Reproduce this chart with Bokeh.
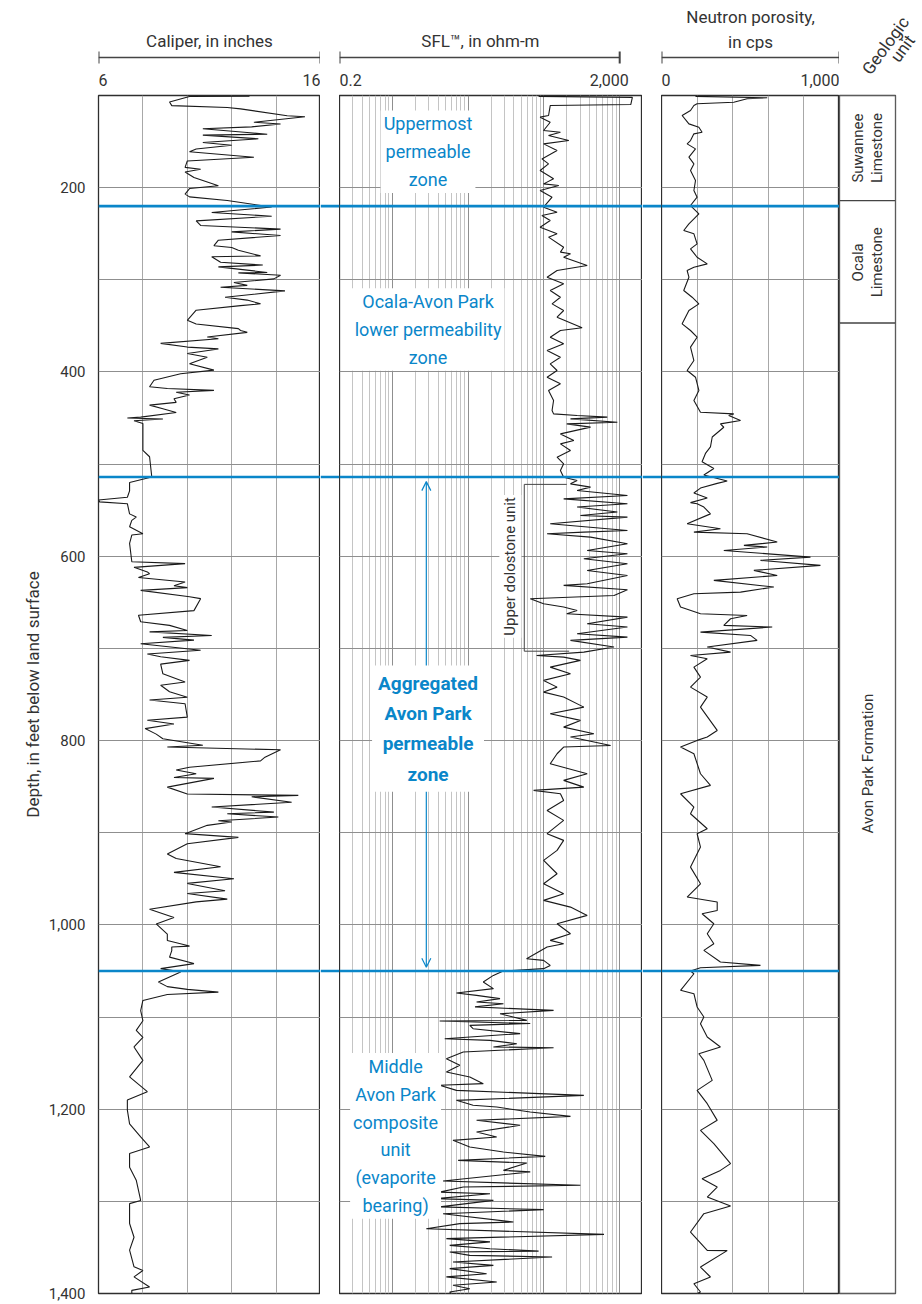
import math
from bokeh.plotting import figure
from bokeh.layouts import row, column
from bokeh.models import Range1d, FixedTicker, Span, Arrow, OpenHead, NumeralTickFormatter
from bokeh.core.properties import value
from bokeh.embed import file_html
from bokeh.resources import INLINE

# ---------------- data ----------------
depth_top, depth_bottom = 100, 1400
depth_ticks = [200, 400, 600, 800, 1000, 1200, 1400]
grid_depths = [200, 300, 400, 500, 600, 700, 800, 900, 1000, 1100, 1200, 1300]
zone_boundaries = [220, 514, 1050]

caliper_range = (6, 16)
caliper_grid = [8, 10, 12, 14]
sfl_range = (0.2, 2000)
sfl_major = [1, 10, 100, 1000]
sfl_minor = [0.2, 0.3, 0.4, 0.5, 0.6, 0.7, 0.8, 0.9,
             2, 3, 4, 5, 6, 7, 8, 9, 20, 30, 40, 50, 60, 70, 80, 90,
             200, 300, 400, 500, 600, 700, 800, 900, 2000]
neutron_range = (0, 1000)
neutron_grid = [200, 400, 600, 800]

# caliper: (depth ft, inches)
caliper = [
    (100.7, 12.8), (101, 10.1), (107, 9.2), (111, 9.3), (113, 11.8), (114.5, 12.4), (122, 14.5), (123, 15.3),
    (129, 13.0), (131, 14.2), (134, 12.9), (136, 10.7), (142, 13.6), (143, 10.7), (147, 13.2), (151, 10.7),
    (154, 12.0), (158, 10.4), (161, 10.1), (167, 13.0), (171, 10.0), (178, 9.9), (180, 10.6), (183, 9.9),
    (189, 10.3), (198, 11.4), (201, 10.1), (207, 9.9), (210, 10.1), (214, 11.8), (221, 13.8), (227, 11.1),
    (231, 13.8), (236, 10.4), (241, 10.6), (245, 14.2), (248, 12.0), (252, 14.2), (257, 11.4), (263, 11.2),
    (265, 12.0), (268, 12.3), (274, 13.3), (275, 11.1), (281, 11.5), (284, 13.4), (286, 11.4), (292, 13.6),
    (292.5, 12.3), (295, 14.2), (299, 13.9), (303, 12.1), (306, 12.7), (308, 11.5), (312, 14.4), (319, 11.7),
    (322, 12.7), (326, 13.3), (328, 12.4), (333, 10.4), (344, 10.0), (348, 10.4), (353, 12.3), (355, 12.4),
    (357, 12.7), (362, 10.9), (364, 11.4), (369, 8.8), (373, 10.0), (375, 11.4), (380, 10.0), (384, 10.9),
    (391, 10.1), (398, 11.2), (402, 9.7), (409, 8.5), (416, 8.3), (418, 9.1), (420, 11.2), (422, 9.5),
    (425, 10.1), (429, 9.4), (433, 9.5), (436, 8.3), (440, 8.9), (444, 9.5), (449, 7.9), (450, 7.3),
    (451, 8.9), (453, 7.6), (456, 8.0), (474, 8.0), (485, 8.0), (492, 8.3), (514, 8.4), (520, 7.4),
    (529, 7.4), (536, 7.3), (539, 6.0), (541, 6.05), (543, 7.3), (554, 7.4), (557.5, 7.7), (561, 7.5),
    (568, 7.4), (575.6, 8.0), (577, 7.5), (586, 7.4), (606, 7.5), (608, 9.9), (612, 7.6), (617, 8.2),
    (619, 8.3), (623, 7.8), (628, 9.9), (632, 9.4), (634, 10.0), (637, 7.9), (644, 10.1), (646, 10.6),
    (659, 10.3), (664, 7.8), (671, 7.9), (675, 9.2), (680.5, 10.0), (682, 8.3), (686, 11.1), (688, 8.9),
    (691, 10.3), (695, 7.9), (702, 10.6), (706, 8.2), (709, 8.8), (713, 10.1), (717, 8.8), (727.5, 8.9),
    (736.5, 9.9), (740, 8.8), (747, 9.2), (753, 10.0), (756, 8.3), (760, 9.9), (774.5, 10.0), (778, 8.2),
    (782, 9.4), (787, 8.1), (793, 8.6), (798, 8.9), (805, 10.7), (807, 9.1), (810, 14.2), (818, 13.5),
    (822, 13.3), (829, 10.1), (832, 9.5), (836, 10.4), (840, 9.4), (841, 11.2), (850.5, 9.1), (858, 10.0),
    (859.5, 15.0), (861, 12.9), (867, 14.7), (872, 11.1), (877.6, 13.9), (879.4, 11.8), (883, 14.1),
    (887, 11.4), (888.4, 12.0), (892, 10.9), (901, 9.9), (905, 12.3), (912, 10.0), (923, 9.1), (928, 9.5),
    (937, 11.5), (943, 9.4), (950, 12.1), (955, 10.0), (963, 11.7), (966, 10.0), (972, 11.8), (975, 10.4),
    (983, 8.3), (992, 9.4), (999, 8.6), (1010, 9.1), (1017, 9.1), (1023, 10.1), (1024, 9.3), (1028, 9.3),
    (1035, 9.2), (1042, 10.3), (1047.5, 8.8), (1051, 9.7), (1062, 8.7), (1067, 9.1), (1070, 10.0),
    (1073, 11.4), (1075.5, 9.1), (1082, 8.0), (1093, 7.9), (1104, 8.0), (1114.5, 7.7), (1122, 8.0),
    (1132.5, 7.6), (1147, 8.0), (1165, 7.4), (1181, 8.2), (1190, 7.3), (1201, 7.3), (1216, 7.4), (1230, 7.9),
    (1241, 8.3), (1248, 7.4), (1263, 7.4), (1277, 7.7), (1299, 7.9), (1302.5, 7.4), (1324, 7.4), (1339, 7.6),
    (1353, 7.4), (1371, 7.6), (1375, 8.0), (1382, 7.6), (1393, 8.3), (1396.6, 7.5), (1400, 7.5),
]

# SFL resistivity: (depth ft, ohm-m)
sfl = [
    (101, 85), (102, 1470), (109.8, 1400), (110.9, 121), (121.7, 115), (123.5, 89), (129, 121), (138, 99),
    (139.8, 165), (143.4, 115), (148.9, 213), (152.5, 99), (159.7, 149), (168.8, 94), (174.2, 115),
    (181.4, 89), (190.4, 134), (195.9, 99), (197.7, 157), (203, 89), (210.3, 128), (221.2, 99), (226.6, 149),
    (230.2, 94), (235.7, 121), (242.9, 89), (250.1, 149), (253.7, 115), (264.6, 182), (270, 165),
    (271.8, 224), (275.5, 182), (284.5, 372), (289.9, 149), (297.2, 110), (304.4, 182), (311.6, 121),
    (318.9, 165), (326.1, 128), (333.3, 182), (340.6, 149), (352.1, 319), (355, 165), (362.3, 121),
    (369.5, 182), (376.7, 110), (384, 165), (391.2, 121), (398.4, 149), (405.7, 110), (412.9, 165),
    (420.1, 115), (431, 134), (441.8, 128), (445.5, 134), (447.3, 274), (449, 686), (450.9, 224),
    (454.5, 931), (456.3, 200), (459.9, 412), (467.2, 165), (474.4, 248), (478, 165), (485.2, 224),
    (492.5, 149), (499.7, 182), (507, 165), (514.2, 182), (517.8, 274), (521.4, 224), (525, 412),
    (528.6, 274), (534, 1265), (537.7, 182), (543, 1265), (546.6, 274), (552, 931), (555.7, 303),
    (557.5, 1265), (564.7, 121), (572, 1265), (573.8, 336), (575.6, 110), (579.2, 412), (586.4, 1265),
    (593.7, 372), (597.3, 1265), (602.7, 336), (608.1, 1265), (615.4, 372), (620.8, 1265), (629.8, 372),
    (631.6, 182), (636.3, 1265), (642.5, 841), (646.1, 66), (651.5, 99), (655.1, 182), (658.8, 274),
    (662.4, 200), (666, 1265), (673.2, 372), (676.8, 1265), (684.1, 274), (687.7, 1265), (691.3, 224),
    (698.5, 841), (704, 336), (707.6, 80), (709.4, 182), (713, 303), (720.3, 121), (727.5, 224),
    (734.7, 99), (742, 149), (747.4, 99), (752.8, 182), (763.7, 336), (770.9, 121), (778.1, 303),
    (785.4, 182), (792.6, 456), (796.2, 224), (805.3, 759), (807, 182), (814.3, 149), (825.1, 121),
    (836, 372), (843.2, 182), (850.5, 336), (854, 73), (857.7, 165), (865, 182), (875.8, 110),
    (886.6, 182), (901, 110), (908.3, 182), (919.2, 149), (930, 99), (944.5, 149), (955.3, 99),
    (966.2, 182), (973.4, 99), (980.7, 224), (989.7, 372), (998.8, 149), (1009.6, 224), (1016.8, 121),
    (1020.4, 182), (1024, 110), (1036.7, 59), (1038.5, 99), (1044, 121), (1047.5, 99), (1050, 29),
    (1054.8, 21.5), (1062, 15.8), (1069.2, 21.5), (1074, 7.0), (1076.5, 12.9), (1080, 26.3),
    (1083.7, 12.9), (1085.5, 29.2), (1089, 12.3), (1092.8, 134), (1096.4, 26.3), (1103.6, 59.4),
    (1104.3, 4.2), (1107, 65.9), (1109, 10.5), (1112.7, 11.6), (1118, 48.5), (1123.5, 4.9), (1125.3, 19.4),
    (1129, 43.8), (1132.5, 21.5), (1133.3, 134), (1138, 8.6), (1145.2, 5.15), (1152.4, 7.75), (1159.7, 5.15),
    (1165, 10.5), (1172.3, 15.8), (1174, 4.2), (1179.6, 7.0), (1185, 336), (1190.4, 7.0), (1195.8, 11.6),
    (1197.7, 23.8), (1203, 65.9), (1207.8, 224), (1212, 12.9), (1217.5, 48.5), (1224.8, 12.9),
    (1230.2, 23.8), (1233.8, 6.3), (1241, 10.5), (1246.5, 29.2), (1251.2, 104), (1255.5, 7.36),
    (1258.4, 59.4), (1266.4, 29.2), (1268, 65.9), (1278, 4.66), (1282.6, 303), (1284.5, 8.6), (1290, 4.2),
    (1291.7, 19.4), (1297, 3.8), (1298.9, 21.5), (1306, 4.2), (1309, 99), (1313.4, 4.66), (1322.4, 39.5),
    (1324.2, 7.75), (1329.7, 2.8), (1335.8, 620), (1340.5, 5.15), (1344, 19.4), (1347.8, 5.7),
    (1351.4, 19.4), (1354, 85), (1355, 5.7), (1358.6, 10.5), (1360.4, 128), (1365.8, 6.3), (1369.5, 21.5),
    (1373, 5.7), (1378.5, 17.5), (1382, 5.15), (1387.5, 23.8), (1391, 6.3), (1394.8, 10.5), (1398.4, 5.7),
    (1400, 6.0),
]

# neutron porosity: (depth ft, cps)
neutron = [
    (101, 191), (102.5, 594), (103.6, 481), (107.3, 406), (109, 200), (110.9, 182), (116.3, 163),
    (121.7, 116), (130.8, 154), (134.4, 210), (139.8, 228), (141.6, 182), (148.9, 163), (152.5, 144),
    (157.9, 191), (166.9, 154), (174.2, 182), (181.4, 163), (192.3, 191), (203.1, 182), (210.3, 200),
    (219.4, 163), (228.4, 210), (239.3, 154), (246.5, 125), (250.1, 182), (261, 200), (266.4, 163),
    (275.5, 200), (282.7, 257), (286.3, 182), (289.9, 144), (297.2, 154), (311.6, 125), (318.9, 172),
    (326.1, 210), (333.3, 154), (347.8, 116), (355, 163), (362.3, 200), (373.1, 163), (387.6, 182),
    (398.4, 144), (405.7, 191), (420.1, 210), (431, 182), (443.8, 219), (445.5, 406), (447.3, 378),
    (452.7, 444), (456.3, 331), (460, 350), (470.6, 285), (481.3, 275), (488.4, 247), (497.5, 228),
    (504.7, 294), (511.9, 238), (518.4, 369), (520.9, 313), (526, 219), (531.4, 182), (536.8, 257),
    (541.8, 163), (543, 200), (546.6, 238), (554, 275), (564.7, 144), (570.1, 331), (573.8, 182),
    (575.6, 481), (584.6, 650), (588.2, 463), (590, 594), (593.7, 350), (600.9, 837), (604.5, 556),
    (609.9, 893), (615.3, 519), (620.8, 650), (626.2, 294), (633.4, 631), (638.9, 444), (640.7, 182),
    (646.1, 88), (655.1, 107), (662.4, 219), (664.2, 481), (667.8, 388), (675, 350), (676.8, 622),
    (682.3, 219), (685.9, 500), (691.3, 537), (698.5, 257), (704, 388), (707.6, 163), (711.2, 257),
    (720.3, 182), (731.1, 219), (742, 163), (752.8, 257), (763.7, 219), (789, 313), (796.2, 257),
    (799.8, 200), (807, 107), (814.3, 182), (836, 219), (848.6, 275), (857.7, 107), (872.2, 182),
    (879.4, 163), (895.7, 257), (901.1, 200), (915.6, 219), (937.3, 163), (955.4, 219), (969.8, 144),
    (975.2, 313), (984.3, 313), (987.9, 228), (998.8, 294), (1009.6, 257), (1020.4, 294), (1027.7, 238),
    (1040.3, 331), (1043.9, 556), (1046.5, 219), (1050.1, 163), (1053, 182), (1071, 107), (1074.7, 182),
    (1089.1, 200), (1100, 238), (1107.2, 219), (1121.7, 257), (1132.5, 331), (1139.8, 210), (1147, 238),
    (1168.7, 285), (1179.6, 200), (1194, 257), (1212.1, 313), (1223, 219), (1237.4, 294), (1259.1, 388),
    (1266.4, 331), (1275.4, 228), (1284.5, 313), (1295.3, 257), (1305.1, 388), (1313.4, 238),
    (1333.3, 163), (1353.2, 257), (1353.5, 369), (1371.3, 219), (1382.1, 275), (1389.4, 182),
    (1398.4, 219), (1400, 200),
]

caliper_depth = [d for d, v in caliper]
caliper_in = [v for d, v in caliper]
sfl_depth = [d for d, v in sfl]
sfl_ohm = [v for d, v in sfl]
neutron_depth = [d for d, v in neutron]
neutron_cps = [v for d, v in neutron]

unit_names = ["Suwannee\nLimestone", "Ocala\nLimestone", "Avon Park Formation"]
unit_top = [100, 214, 347]
unit_bottom = [214, 347, 1400]
unit_label_depth = [157, 281, 825]

zone_labels = ["Uppermost\npermeable\nzone", "Ocala-Avon Park\nlower permeability\nzone",
               "Middle\nAvon Park\ncomposite\nunit\n(evaporite\nbearing)"]
zone_label_x = [2.95, 2.95, 1.1]
zone_label_depth = [161, 354, 1229]
aggregated_label = "Aggregated\nAvon Park\npermeable\nzone"
aggregated_x, aggregated_depth = 2.95, 787
arrow_x, arrow_top, arrow_bottom = 2.8, 519, 1046
dolostone_top, dolostone_bottom = 522, 703
dolostone_left, dolostone_right_top, dolostone_right_bottom = 55, 200, 215
dolostone_label_x, dolostone_label_depth = 36, 611

# ---------------- style ----------------
FONT_NAME = "Roboto"
FONT = value(FONT_NAME)
BLUE = "#0a86c9"
INK = "#333333"
CURVE = "#1a1a1a"
GRID_MAJOR = "#8f8f8f"
GRID_MINOR = "#c4c4c4"

HEAD_H = 93
TOP, FRAME_H, BOTTOM = 2, 1198, 9
MAIN_H = TOP + FRAME_H + BOTTOM
LEFT = 98
GEO_W = 80

yr = Range1d(depth_bottom, depth_top)
cal_xr = Range1d(*caliper_range)
sfl_xr = Range1d(*sfl_range)
neu_xr = Range1d(*neutron_range)
geo_xr = Range1d(0, 1)


def make(width, height, x_range, y_range, x_type="linear", y_loc=None, **borders):
    p = figure(width=width, height=height, x_range=x_range, y_range=y_range,
               x_axis_type=x_type, x_axis_location=None, y_axis_location=y_loc,
               toolbar_location=None, output_backend="svg", min_border=0, **borders)
    p.background_fill_color = "white"
    p.border_fill_color = "white"
    p.outline_line_color = None
    p.xgrid.visible = False
    p.ygrid.visible = False
    return p


def style_track(p, xticks, minor=None):
    p.outline_line_color = "#2e2e2e"
    p.outline_line_width = 1.3
    p.xgrid.visible = True
    p.xgrid.ticker = FixedTicker(ticks=xticks, minor_ticks=minor or [])
    p.xgrid.grid_line_color = GRID_MAJOR if minor else "#a8a8a8"
    p.xgrid.grid_line_width = 1
    if minor:
        p.xgrid.minor_grid_line_color = GRID_MINOR
        p.xgrid.minor_grid_line_width = 1
    p.ygrid.visible = True
    p.ygrid.ticker = FixedTicker(ticks=grid_depths)
    p.ygrid.grid_line_color = GRID_MAJOR
    p.ygrid.grid_line_width = 1


def zone_lines(p):
    for d in zone_boundaries:
        p.add_layout(Span(location=d, dimension="width", line_color=BLUE, line_width=2.6))


# ---------------- main tracks ----------------
cal = make(LEFT + 222, MAIN_H, cal_xr, yr, y_loc="left", min_border_left=LEFT,
           min_border_top=TOP, min_border_bottom=BOTTOM)
style_track(cal, caliper_grid)
ax = cal.yaxis[0]
ax.ticker = FixedTicker(ticks=depth_ticks)
ax.formatter = NumeralTickFormatter(format="0,0")
ax.major_tick_line_color = None
ax.minor_tick_line_color = None
ax.major_tick_out = 0
ax.major_tick_in = 0
ax.minor_tick_out = 0
ax.axis_line_color = None
ax.major_label_text_font = FONT_NAME
ax.major_label_text_font_size = "15px"
ax.major_label_text_color = INK
ax.major_label_standoff = 13
ax.axis_label = "Depth, in feet below land surface"
ax.axis_label_text_font = FONT_NAME
ax.axis_label_text_font_size = "17px"
ax.axis_label_text_font_style = "normal"
ax.axis_label_text_color = INK
ax.axis_label_standoff = 3
zone_lines(cal)
cal.line(caliper_in, caliper_depth, line_color=CURVE, line_width=1.1)

gap1 = make(19, MAIN_H, Range1d(0, 1), yr, min_border_top=TOP, min_border_bottom=BOTTOM)
zone_lines(gap1)

sfl_p = make(303, MAIN_H, sfl_xr, yr, x_type="log", min_border_top=TOP, min_border_bottom=BOTTOM)
style_track(sfl_p, sfl_major, sfl_minor)
zone_lines(sfl_p)
sfl_p.add_layout(Arrow(x_start=arrow_x, y_start=arrow_top, x_end=arrow_x, y_end=arrow_bottom,
                       line_color=BLUE, line_width=1.2, level="underlay",
                       start=OpenHead(size=9, line_color=BLUE, line_width=1.2),
                       end=OpenHead(size=9, line_color=BLUE, line_width=1.2)))
sfl_p.line([dolostone_right_top, dolostone_left, dolostone_left, dolostone_right_bottom],
           [dolostone_top, dolostone_top, dolostone_bottom, dolostone_bottom],
           line_color="#444444", line_width=1)
sfl_p.text(x=[dolostone_label_x], y=[dolostone_label_depth], text=["Upper dolostone unit"],
           angle=math.pi / 2, text_font=FONT, text_font_size="15px", text_color=INK,
           text_align="center", text_baseline="middle", background_fill_color="white", padding=2)
sfl_p.line(sfl_ohm, sfl_depth, line_color=CURVE, line_width=1.1)
sfl_p.text(x=zone_label_x, y=zone_label_depth, text=zone_labels, text_font=FONT,
           text_font_size="18px", text_color=BLUE, text_align="center", text_baseline="middle",
           text_line_height=1.32, background_fill_color="white", padding=3)
sfl_p.text(x=[aggregated_x], y=[aggregated_depth], text=[aggregated_label], text_font=FONT,
           text_font_size="19px", text_font_style="bold", text_color=BLUE, text_align="center",
           text_baseline="middle", text_line_height=1.32, background_fill_color="white", padding=6)

gap2 = make(19, MAIN_H, Range1d(0, 1), yr, min_border_top=TOP, min_border_bottom=BOTTOM)
zone_lines(gap2)

neu = make(178, MAIN_H, neu_xr, yr, min_border_top=TOP, min_border_bottom=BOTTOM)
style_track(neu, neutron_grid)
zone_lines(neu)
neu.line(neutron_cps, neutron_depth, line_color=CURVE, line_width=1.1)

geo = make(GEO_W, MAIN_H, geo_xr, yr, min_border_top=TOP, min_border_bottom=BOTTOM,
           min_border_right=GEO_W - 56)
geo.outline_line_color = "#444444"
geo.outline_line_width = 1.3
geo.quad(left=[0] * 3, right=[1] * 3, top=unit_top, bottom=unit_bottom,
         fill_color="white", line_color="#444444", line_width=1.3)
geo.text(x=[0.5] * 3, y=unit_label_depth, text=unit_names, angle=math.pi / 2, text_font=FONT,
         text_font_size="15px", text_color=INK, text_align="center", text_baseline="middle",
         text_line_height=1.05)

# ---------------- header row ----------------
hy = Range1d(HEAD_H, 0)
TITLE_Y, BRACKET_Y, TICK_HALF, LABEL_Y = 40, 57, 6, 79


def header(p, lo, hi, title_x, title, lo_label, hi_label, hi_label_x=None, title_y=TITLE_Y):
    p.segment(x0=[lo], y0=[BRACKET_Y], x1=[hi], y1=[BRACKET_Y], line_color="#444444", line_width=1.3)
    p.segment(x0=[lo, hi], y0=[BRACKET_Y - TICK_HALF] * 2, x1=[lo, hi], y1=[BRACKET_Y + TICK_HALF] * 2,
              line_color="#444444", line_width=2)
    p.text(x=[title_x], y=[title_y], text=[title], text_font=FONT, text_font_size="17px",
           text_color=INK, text_align="center", text_baseline="middle", text_line_height=1.25)
    p.text(x=[p.x_range.start], y=[LABEL_Y], text=[lo_label], text_font=FONT, text_font_size="16px",
           text_color=INK, text_align="left", text_baseline="middle")
    p.text(x=[hi_label_x if hi_label_x else p.x_range.end], y=[LABEL_Y], text=[hi_label], text_font=FONT,
           text_font_size="16px", text_color=INK, text_align="right", text_baseline="middle")


h_cal = make(LEFT + 222, HEAD_H, cal_xr, hy, min_border_left=LEFT)
header(h_cal, 6, 16, 11, "Caliper, in inches", "6", "16")
h_gap1 = make(19, HEAD_H, Range1d(0, 1), hy)
h_sfl = make(303, HEAD_H, sfl_xr, hy, x_type="log")
header(h_sfl, 0.2, 1000, 14.5, "SFL\u2122, in ohm-m", "0.2", "2,000", hi_label_x=1320)
h_gap2 = make(19, HEAD_H, Range1d(0, 1), hy)
h_neu = make(178, HEAD_H, neu_xr, hy)
header(h_neu, 0, 1000, 500, "Neutron porosity,\nin cps", "0", "1,000", title_y=29)
h_geo = make(GEO_W, HEAD_H, Range1d(0, GEO_W), hy)
h_geo.text(x=[46, 63], y=[45, 48], text=["Geologic", "unit"], angle=0.94, text_font=FONT,
           text_font_size="17px", text_color=INK, text_align="center", text_baseline="middle")

layout = column(row(h_cal, h_gap1, h_sfl, h_gap2, h_neu, h_geo),
                row(cal, gap1, sfl_p, gap2, neu, geo))

open("out.html", "w").write(file_html(layout, INLINE))
